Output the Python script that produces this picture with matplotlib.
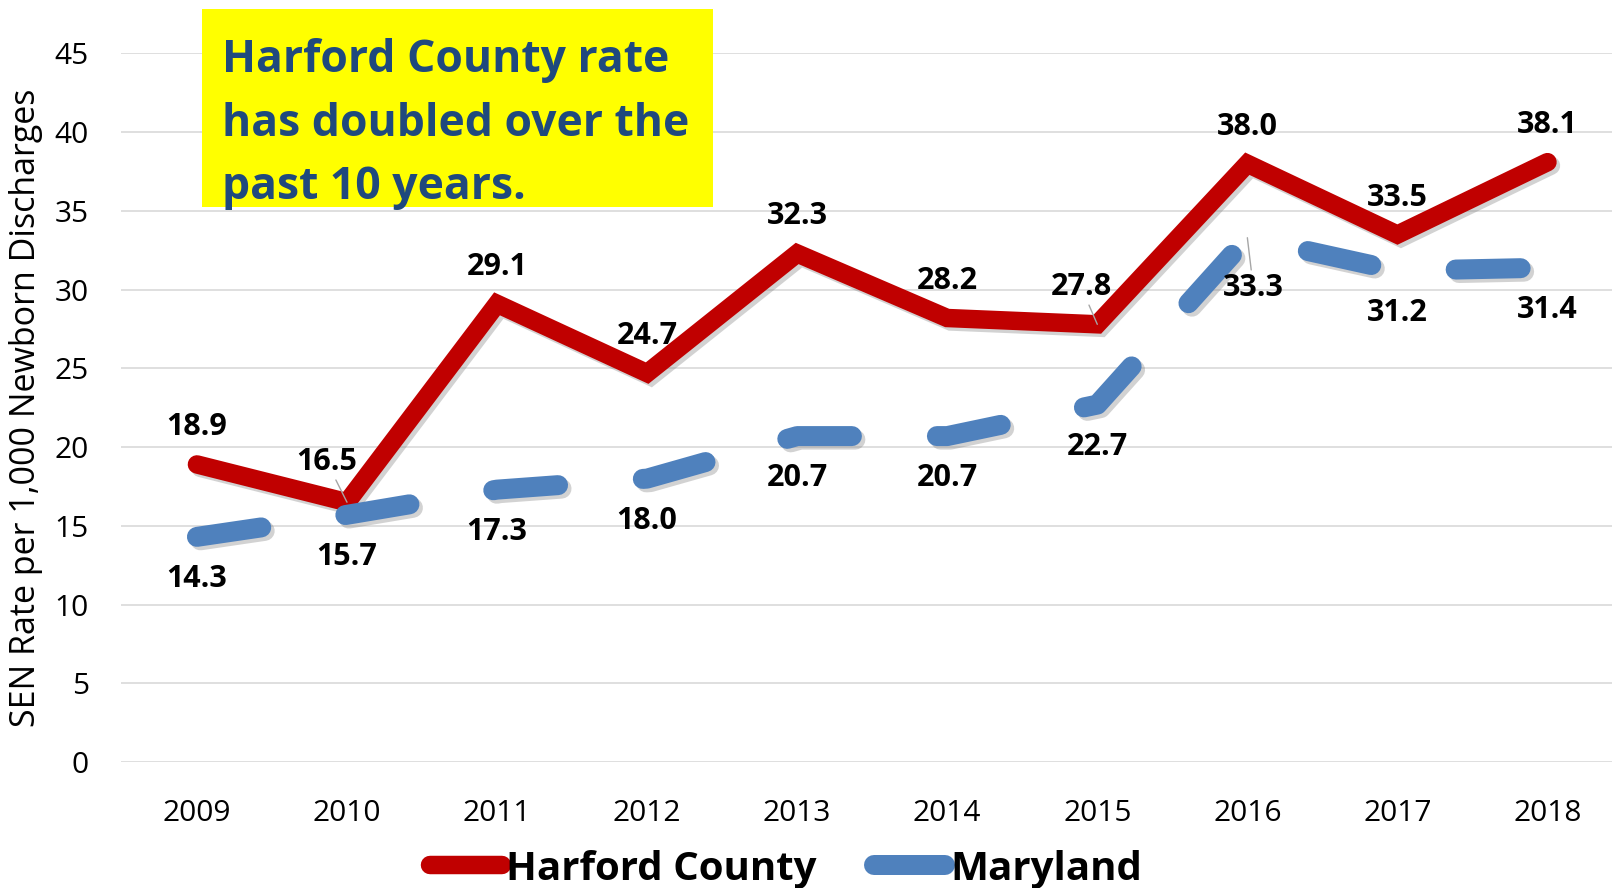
import matplotlib
matplotlib.use('Agg')
import matplotlib.pyplot as plt
import matplotlib.patheffects as pe
from matplotlib.lines import Line2D
from matplotlib.patches import Rectangle

years = ['2009', '2010', '2011', '2012', '2013', '2014', '2015', '2016', '2017', '2018']
harford = [18.9, 16.5, 29.1, 24.7, 32.3, 28.2, 27.8, 38.0, 33.5, 38.1]
maryland = [14.3, 15.7, 17.3, 18.0, 20.7, 20.7, 22.7, 33.3, 31.2, 31.4]
y_ticks = [0, 5, 10, 15, 20, 25, 30, 35, 40, 45]
series_names = ['Harford County', 'Maryland']
note_lines = ['Harford County rate', 'has doubled over the', 'past 10 years.']
y_title = 'SEN Rate per 1,000 Newborn Discharges'

RED = '#C00000'
BLUE = '#4F81BD'
GRID = '#D9D9D9'
NOTE_BLUE = '#1F497D'
FONT = 'Open Sans'

W, H = 1612, 888
fig = plt.figure(figsize=(W / 100, H / 100), dpi=100)
ax = fig.add_axes([121 / W, 1 - 762 / H, (W - 121) / W, (762 - 53.5) / H])

x = list(range(len(years)))

shadow = [pe.SimpleLineShadow(offset=(2.5, -2.5), shadow_color='#7F7F7F', alpha=0.35),
          pe.Normal()]

ax.plot(x, harford, color=RED, lw=13.3, solid_capstyle='round',
        solid_joinstyle='miter', path_effects=shadow, zorder=3)
ax.plot(x, maryland, color=BLUE, lw=14.4, dashes=(3.25, 4.25),
        dash_capstyle='round', dash_joinstyle='round', path_effects=shadow, zorder=4)

# data labels, offsets in pixels; a few are nudged and get a leader line
red_nudge = {1: (-20, 40), 6: (-16, 37)}
blue_nudge = {7: (6, -50)}
label_font = dict(family=FONT, weight='bold', size=22, color='black')
leader = dict(arrowstyle='-', color='#A6A6A6', lw=1.0, shrinkA=0, shrinkB=0)

for i, v in enumerate(harford):
    dx, dy = red_nudge.get(i, (0, 37))
    ax.annotate(f'{v:.1f}', (i, v), xytext=(dx, dy), textcoords='offset pixels',
                ha='center', va='center', zorder=6,
                arrowprops=leader if i in red_nudge else None, **label_font)
for i, v in enumerate(maryland):
    dx, dy = blue_nudge.get(i, (0, -42))
    ax.annotate(f'{v:.1f}', (i, v), xytext=(dx, dy), textcoords='offset pixels',
                ha='center', va='center', zorder=6,
                arrowprops=leader if i in blue_nudge else None, **label_font)

ax.set_xlim(-0.506, 9.43)
ax.set_ylim(0, 45)
ax.set_xticks(x)
ax.set_xticklabels(years)
ax.set_yticks(y_ticks)
ax.set_yticklabels([str(t) for t in y_ticks])
ax.tick_params(length=0, labelsize=21.5, colors='black')
ax.tick_params(axis='y', pad=23)
ax.tick_params(axis='x', pad=26.5)
for lab in ax.get_xticklabels() + ax.get_yticklabels():
    lab.set_family(FONT)
ax.grid(axis='y', color=GRID, lw=1.2)
ax.set_axisbelow(True)
for s in ax.spines.values():
    s.set_visible(False)

fig.text(25.7 / W, 1 - 408 / H, y_title, rotation=90, ha='center', va='center',
         family=FONT, size=24.5)

# yellow call-out box
fig.patches.append(Rectangle((201.5 / W, 1 - 206.6 / H), (712.5 - 201.5) / W,
                             (206.6 - 9.3) / H, transform=fig.transFigure,
                             facecolor='#FFFF00', edgecolor='none', zorder=5))
for line, base in zip(note_lines, [72, 136, 199]):
    fig.text(222 / W, 1 - base / H, line, ha='left', va='baseline',
             family=FONT, weight='bold', size=32, color=NOTE_BLUE, zorder=6)

handles = [Line2D([], [], color=RED, lw=13.3, solid_capstyle='round'),
           Line2D([], [], color=BLUE, lw=14.4, solid_capstyle='round')]
fig.legend(handles, series_names, loc='center', bbox_to_anchor=(786 / W, 1 - 869 / H),
           ncol=2, frameon=False, handlelength=1.78, handletextpad=0.12,
           columnspacing=1.41, prop=dict(family=FONT, weight='bold', size=29))

fig.savefig('out.png', dpi=100)
